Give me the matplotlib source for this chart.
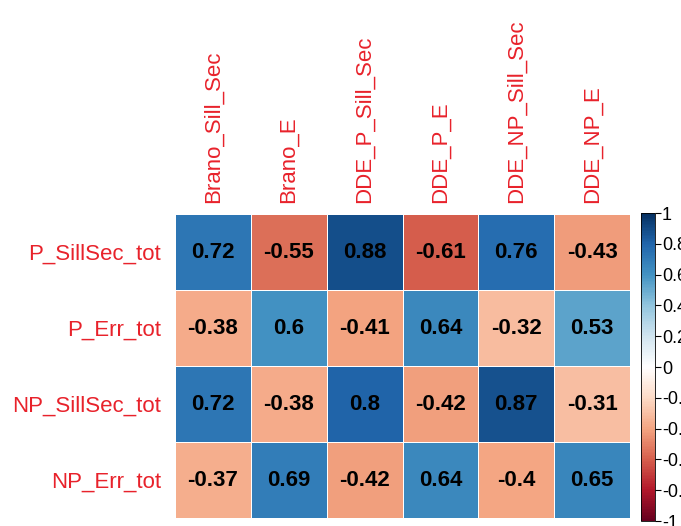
import numpy as np
import matplotlib
matplotlib.use("Agg")
import matplotlib.pyplot as plt
from matplotlib.colors import LinearSegmentedColormap

col_labels = ["Brano_Sill_Sec", "Brano_E", "DDE_P_Sill_Sec", "DDE_P_E", "DDE_NP_Sill_Sec", "DDE_NP_E"]
row_labels = ["P_SillSec_tot", "P_Err_tot", "NP_SillSec_tot", "NP_Err_tot"]

r_p_sill = [0.72, -0.55, 0.88, -0.61, 0.76, -0.43]
r_p_err = [-0.38, 0.6, -0.41, 0.64, -0.32, 0.53]
r_np_sill = [0.72, -0.38, 0.8, -0.42, 0.87, -0.31]
r_np_err = [-0.37, 0.69, -0.42, 0.64, -0.4, 0.65]

cbar_ticks = [-1, -0.8, -0.6, -0.4, -0.2, 0, 0.2, 0.4, 0.6, 0.8, 1]

# corrplot style RdBu palette
rdbu = ["#67001F", "#B2182B", "#D6604D", "#F4A582", "#FDDBC7", "#FFFFFF",
        "#D1E5F0", "#92C5DE", "#4393C3", "#2166AC", "#053061"]
cmap = LinearSegmentedColormap.from_list("corr", rdbu, N=200)
label_red = "#e8222b"

plt.rcParams["font.family"] = ["Liberation Sans", "DejaVu Sans"]

M = np.array([r_p_sill, r_p_err, r_np_sill, r_np_err])
nr, nc = M.shape

fig = plt.figure(figsize=(6.81, 5.26), dpi=100)
ax = fig.add_axes([175/681, 1-518/526, (630-175)/681, (518-214)/526])
mesh = ax.pcolormesh(np.arange(nc+1), np.arange(nr+1), M, cmap=cmap, vmin=-1, vmax=1,
                     edgecolors="white", linewidth=0.6)
ax.set_xlim(0, nc)
ax.set_ylim(nr, 0)
for i in range(nr):
    for j in range(nc):
        ax.text(j+0.5, i+0.5, f"{M[i, j]:g}", ha="center", va="center",
                fontsize=16, fontweight="bold", color="black")

ax.set_xticks(np.arange(nc)+0.5)
ax.set_xticklabels(col_labels, rotation=90, color=label_red, fontsize=16)
ax.xaxis.tick_top()
ax.set_yticks(np.arange(nr)+0.5)
ax.set_yticklabels(row_labels, color=label_red, fontsize=16)
ax.tick_params(axis="x", length=0, pad=8)
ax.tick_params(axis="y", length=0, pad=10)
for s in ax.spines.values():
    s.set_visible(False)

cax = fig.add_axes([641/681, 1-521/526, 14/681, (521-213)/526])
cb = fig.colorbar(mesh, cax=cax, ticks=cbar_ticks)
cb.ax.set_yticklabels([f"{t:g}" for t in cbar_ticks])
cb.ax.tick_params(labelsize=13, length=4, width=0.8, pad=1)
cb.outline.set_linewidth(0.6)

fig.savefig("out.png", dpi=100)
